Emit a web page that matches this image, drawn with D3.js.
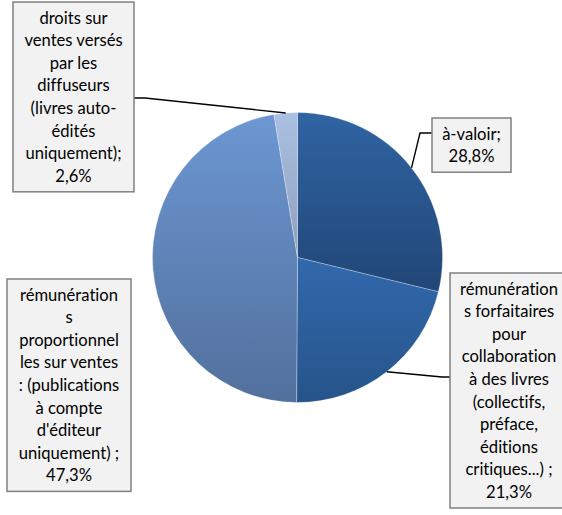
<!DOCTYPE html>
<html>
<head>
<meta charset="utf-8">
<script src="https://cdn.jsdelivr.net/npm/d3@7"></script>
<style>
  html, body { margin: 0; padding: 0; background: #fff; }
  svg { display: block; }
  text { font-variant-ligatures: none; }
</style>
</head>
<body>
<svg width="562" height="515"></svg>
<script>
// Répartition des revenus d'auteur (camembert)
var categories = ["à-valoir", "forfaitaires", "proportionnelles", "droits diffuseurs"];
var values = [28.8, 21.3, 47.3, 2.6];
var labelLines = [
  ["à-valoir;", "28,8%"],
  ["rémunération", "s forfaitaires", "pour", "collaboration", "à des livres", "(collectifs,", "préface,", "éditions", "critiques...) ;", "21,3%"],
  ["rémunération", "s", "proportionnel", "les sur ventes", ": (publications", "à compte", "d'éditeur", "uniquement) ;", "47,3%"],
  ["droits sur", "ventes versés", "par les", "diffuseurs", "(livres auto-", "édités", "uniquement);", "2,6%"]
];
var gradTop = ["#2f64a3", "#3169ad", "#6c97d2", "#abc0e2"];
var gradBottom = ["#214676", "#26548a", "#52709d", "#8e9fbc"];

var svg = d3.select("svg");
var cx = 297.5, cy = 257.5, r = 145;
var lineH = 22.6;

// boxes: x, y, width  (layout only)
var boxes = [
  {x: 432, y: 118, w: 79},
  {x: 450, y: 273, w: 118},
  {x: 7, y: 279, w: 124},
  {x: 13, y: 2, w: 121}
];
// leader elbows (layout only), null = no leader
var elbows = [
  [[420, 133], [432, 133]],
  [[442, 377], [450, 377]],
  null,
  [[145, 98], [134, 98]]
];

var defs = svg.append("defs");
gradTop.forEach(function(c, i) {
  var g = defs.append("linearGradient")
    .attr("id", "g" + i)
    .attr("x1", 0).attr("y1", 0).attr("x2", 0).attr("y2", 1);
  g.append("stop").attr("offset", "0%").attr("stop-color", c);
  g.append("stop").attr("offset", "100%").attr("stop-color", gradBottom[i]);
});

var pie = d3.pie().sort(null).value(function(d) { return d; });
var arcs = pie(values);
var arc = d3.arc().innerRadius(0).outerRadius(r);

var g = svg.append("g").attr("transform", "translate(" + cx + "," + cy + ")");
g.selectAll("path")
  .data(arcs)
  .enter().append("path")
    .attr("d", arc)
    .attr("fill", function(d, i) { return "url(#g" + i + ")"; })
    .attr("stroke", "#ffffff")
    .attr("stroke-opacity", 0.35)
    .attr("stroke-width", 0.8);

// leader lines from the slice edge at mid angle
arcs.forEach(function(d, i) {
  if (!elbows[i]) return;
  var a = (d.startAngle + d.endAngle) / 2;
  var pts = [[cx + r * Math.sin(a), cy - r * Math.cos(a)]].concat(elbows[i]);
  svg.append("path")
    .attr("d", d3.line()(pts))
    .attr("fill", "none")
    .attr("stroke", "#000")
    .attr("stroke-width", 1.4);
});

// label boxes
labelLines.forEach(function(lines, i) {
  var b = boxes[i];
  var h = lines.length * lineH + 9;
  var lg = svg.append("g");
  lg.append("rect")
    .attr("x", b.x).attr("y", b.y)
    .attr("width", b.w).attr("height", h)
    .attr("fill", "#f2f2f2")
    .attr("stroke", "#808080")
    .attr("stroke-width", 1.5);
  lg.selectAll("text")
    .data(lines)
    .enter().append("text")
      .attr("x", b.x + b.w / 2)
      .attr("y", function(t, j) { return b.y + 4.5 + lineH * (j + 0.5); })
      .attr("dy", "0.35em")
      .attr("text-anchor", "middle")
      .attr("font-family", "Lato, 'Open Sans', sans-serif")
      .attr("font-size", "16.6px")
      .attr("fill", "#000")
      .text(function(t) { return t; });
});
</script>
</body>
</html>
